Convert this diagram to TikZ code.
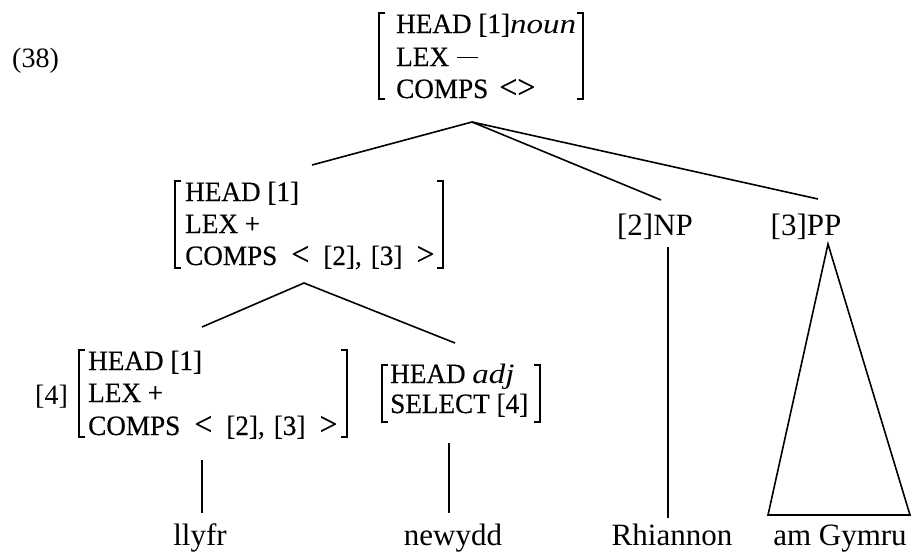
\documentclass[tikz,border=0pt]{standalone}
\usepackage{fontspec}
\setmainfont{Liberation Serif}
% feature-structure lettering
\newfontfamily\avmrm[FakeStretch=0.97,FakeBold=0.4]{Liberation Serif}
\newfontface\avmit[FakeStretch=1.18]{Liberation Serif Italic}
% square bracket of a feature structure: x, top y, bottom y
\newcommand\avmleft[3]{\draw[brk] (#1+6,#2) -- (#1,#2) -- (#1,#3) -- (#1+6,#3);}
\newcommand\avmright[3]{\draw[brk] (#1-6,#2) -- (#1,#2) -- (#1,#3) -- (#1-6,#3);}
% relation signs and minus, drawn a little larger than the text
\newcommand\lt{{\fontsize{33}{33}\selectfont<}}
\newcommand\gt{{\fontsize{33}{33}\selectfont>}}
\newcommand\mns{\raisebox{8pt}{\rule{21pt}{1.5pt}}}
\begin{document}
\begin{tikzpicture}[x=1pt,y=-1pt,
  avm/.style={anchor=base west, inner sep=0pt, font=\avmrm\fontsize{28}{32}\selectfont},
  word/.style={anchor=base, inner sep=0pt, font=\fontsize{31}{36}\selectfont},
  branch/.style={line width=1.6pt},
  brk/.style={line width=1.7pt}]
\useasboundingbox (0,0) rectangle (913,552);

% example number
\node[word, anchor=base west, font=\fontsize{28}{34}\selectfont] (ex) at (12,67) {(38)};

% mother
\node[avm] (top1) at (396,33) {HEAD [1]{\avmit noun}};
\node[avm] (top2) at (396,66) {LEX\hspace{8pt}\mns};
\node[avm] (top3) at (396,98) {COMPS\hspace{11pt}\lt\gt};
\avmleft{379}{13}{99}
\avmright{583}{13}{99}

% head daughter
\node[avm] (mid1) at (185,201) {HEAD [1]};
\node[avm] (mid2) at (185,233) {LEX +};
\node[avm] (mid3) at (185,265) {COMPS\hspace{14pt}\lt\hspace{14pt}[2],\hspace{9pt}[3]\hspace{14pt}\gt};
\avmleft{175}{181}{268}
\avmright{443}{181}{268}

% lexical head
\node[word, anchor=base west, font=\fontsize{28}{34}\selectfont] (tag4) at (35,404) {[4]};
\node[avm] (bl1) at (88,370) {HEAD [1]};
\node[avm] (bl2) at (88,402) {LEX +};
\node[avm] (bl3) at (88,435) {COMPS\hspace{14pt}\lt\hspace{14pt}[2],\hspace{9pt}[3]\hspace{14pt}\gt};
\avmleft{79}{350}{437}
\avmright{347}{350}{437}

% adjective
\node[avm] (adj1) at (390,383) {HEAD {\avmit adj}};
\node[avm] (adj2) at (390,413) {SELECT [4]};
\avmleft{382}{365}{422}
\avmright{540}{365}{422}

% complements
\node[word] (np) at (655,235) {[2]NP};
\node[word] (pp) at (806,235) {[3]PP};

% words
\node[word] (w1) at (200,545) {llyfr};
\node[word] (w2) at (453,545) {newydd};
\node[word] (w3) at (672,545) {Rhiannon};
\node[word] (w4) at (840,545) {am Gymru};

% attachment points
\coordinate (topfoot) at (472,122);
\coordinate (midhead) at (312,165);
\coordinate (nphead) at (661,200);
\coordinate (pphead) at (818,199);
\coordinate (midfoot) at (304,283);
\coordinate (blhead) at (202,327);
\coordinate (adjhead) at (455,343);
\coordinate (blfoot) at (202,460);
\coordinate (w1top) at (202,513);
\coordinate (adjfoot) at (449,443);
\coordinate (w2top) at (449,513);
\coordinate (npfoot) at (668,247);
\coordinate (w3top) at (668,518);
\coordinate (ppfoot) at (828,244);
\coordinate (w4left) at (768,515);
\coordinate (w4right) at (910,515);

% branches
\draw[branch] (midhead) -- (topfoot) -- (nphead);
\draw[branch] (topfoot) -- (pphead);
\draw[branch] (blhead) -- (midfoot) -- (adjhead);
\draw[branch] (blfoot) -- (w1top);
\draw[branch] (adjfoot) -- (w2top);
\draw[branch] (npfoot) -- (w3top);
\draw[branch, line join=miter] (ppfoot) -- (w4left) -- (w4right) -- cycle;
\end{tikzpicture}
\end{document}
